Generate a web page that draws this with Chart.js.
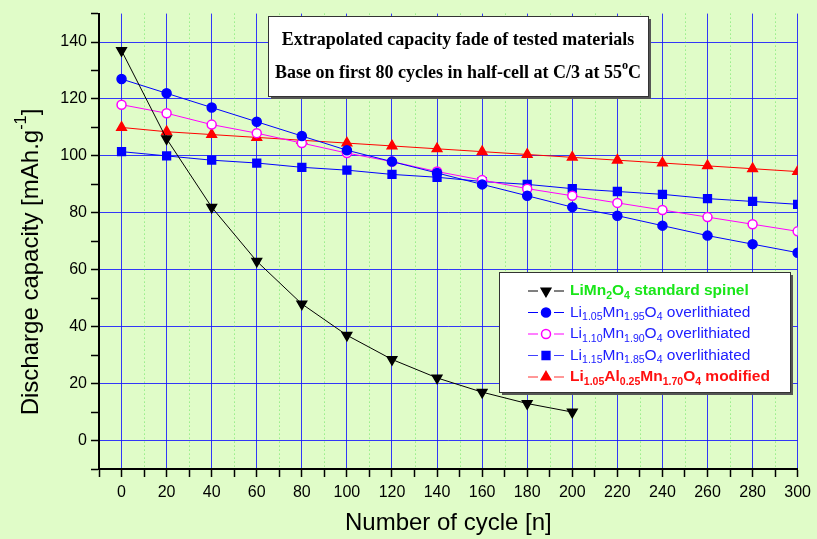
<!DOCTYPE html>
<html>
<head>
<meta charset="utf-8">
<script src="https://cdn.jsdelivr.net/npm/chart.js"></script>
<style>
  html, body { margin: 0; padding: 0; background: #e0fcc8; }
  #wrap { width: 817px; height: 539px; }
</style>
</head>
<body>
<div id="wrap"><canvas id="myChart" width="817" height="539"></canvas></div>
<script>
// cykle (os x)
const cycles = [0, 20, 40, 60, 80, 100, 120, 140, 160, 180, 200, 220, 240, 260, 280, 300];

// pojemnosc rozladowania [mAh/g]
const limn2o4 = [137, 106, 82, 63, 48, 37, 28.5, 22, 17, 13, 10];
const li105mn195 = [127, 122, 117, 112, 107, 102, 98, 94, 90, 86, 82, 79, 75.5, 72, 69, 66];
const li110mn190 = [118, 115, 111, 108, 104.5, 101, 98, 94.5, 91.5, 88.5, 86, 83.5, 81, 78.5, 76, 73.5];
const li115mn185 = [101.5, 100, 98.5, 97.5, 96, 95, 93.5, 92.5, 91, 90, 88.5, 87.5, 86.5, 85, 84, 83];
const li105al025 = [110, 108.5, 107.5, 106.5, 105.5, 104.5, 103.5, 102.5, 101.5, 100.5, 99.5, 98.5, 97.5, 96.5, 95.5, 94.5];

const xTickLabels = [0, 20, 40, 60, 80, 100, 120, 140, 160, 180, 200, 220, 240, 260, 280, 300];
const yTickLabels = [0, 20, 40, 60, 80, 100, 120, 140];
const xMinorGrid = [10, 30, 50, 70, 90, 110, 130, 150, 170, 190, 210, 230, 250, 270, 290];

function pts(vals) {
    return vals.map((v, i) => ({x: cycles[i], y: v}));
}

// tekst z indeksami dolnymi / gornymi
function richWidth(ctx, parts, size, weight, family) {
    let w = 0;
    parts.forEach(p => {
        const s = p.sub || p.sup ? size * 0.68 : size;
        ctx.font = weight + ' ' + s + 'px ' + family;
        w += ctx.measureText(p.t).width;
    });
    return w;
}
function drawRich(ctx, parts, x, y, size, weight, family, color) {
    ctx.fillStyle = color;
    ctx.textBaseline = 'middle';
    ctx.textAlign = 'left';
    let cx = x;
    parts.forEach(p => {
        const s = p.sub || p.sup ? size * 0.68 : size;
        ctx.font = weight + ' ' + s + 'px ' + family;
        let dy = 0;
        if (p.sub) dy = size * 0.32;
        if (p.sup) dy = -size * 0.38;
        ctx.fillText(p.t, cx, y + dy);
        cx += ctx.measureText(p.t).width;
    });
}

function shadowBox(ctx, x, y, w, h) {
    ctx.save();
    ctx.fillStyle = '#555';
    ctx.fillRect(x + 3, y + 3, w, h);
    ctx.fillStyle = 'white';
    ctx.fillRect(x, y, w, h);
    ctx.strokeStyle = '#333';
    ctx.lineWidth = 1;
    ctx.strokeRect(x + 0.5, y + 0.5, w, h);
    ctx.restore();
}

const legendItems = [
    {parts: [{t: 'LiMn'}, {t: '2', sub: 1}, {t: 'O'}, {t: '4', sub: 1}, {t: ' standard spinel'}],
     color: '#19e619', weight: 'bold', line: 'black', style: 'triangle', rot: 180, fill: 'black', border: 'black', r: 5.5},
    {parts: [{t: 'Li'}, {t: '1.05', sub: 1}, {t: 'Mn'}, {t: '1.95', sub: 1}, {t: 'O'}, {t: '4', sub: 1}, {t: ' overlithiated'}],
     color: '#2020ff', weight: 'normal', line: '#0000ff', style: 'circle', rot: 0, fill: '#0000ff', border: '#0000ff', r: 4.5},
    {parts: [{t: 'Li'}, {t: '1.10', sub: 1}, {t: 'Mn'}, {t: '1.90', sub: 1}, {t: 'O'}, {t: '4', sub: 1}, {t: ' overlithiated'}],
     color: '#2020ff', weight: 'normal', line: '#ff00ff', style: 'circle', rot: 0, fill: 'white', border: '#ff00ff', r: 4.5},
    {parts: [{t: 'Li'}, {t: '1.15', sub: 1}, {t: 'Mn'}, {t: '1.85', sub: 1}, {t: 'O'}, {t: '4', sub: 1}, {t: ' overlithiated'}],
     color: '#2020ff', weight: 'normal', line: '#4040ff', style: 'rect', rot: 0, fill: '#0000ff', border: '#0000ff', r: 5.5},
    {parts: [{t: 'Li'}, {t: '1.05', sub: 1}, {t: 'Al'}, {t: '0.25', sub: 1}, {t: 'Mn'}, {t: '1.70', sub: 1}, {t: 'O'}, {t: '4', sub: 1}, {t: ' modified'}],
     color: '#ff1010', weight: 'bold', line: '#ff3030', style: 'triangle', rot: 0, fill: '#ff0000', border: '#ff0000', r: 5.5}
];

const decorPlugin = {
    id: 'decor',
    beforeDraw(chart) {
        const ctx = chart.ctx;
        ctx.save();
        ctx.fillStyle = '#e0fcc8';
        ctx.fillRect(0, 0, chart.width, chart.height);
        ctx.restore();
    },
    beforeDatasetsDraw(chart) {
        // drobna siatka pionowa (zielone kropki)
        const ctx = chart.ctx;
        const xs = chart.scales.x;
        const a = chart.chartArea;
        ctx.save();
        ctx.strokeStyle = 'rgba(60,220,60,0.7)';
        ctx.lineWidth = 1;
        ctx.setLineDash([1, 3]);
        xMinorGrid.forEach(v => {
            const px = Math.round(xs.getPixelForValue(v)) + 0.5;
            ctx.beginPath();
            ctx.moveTo(px, a.top);
            ctx.lineTo(px, a.bottom);
            ctx.stroke();
        });
        ctx.restore();
    },
    afterDraw(chart) {
        const ctx = chart.ctx;
        ctx.save();

        // opis osi y
        const yParts = [{t: 'Discharge capacity [mAh.g'}, {t: '-1', sup: 1}, {t: ']'}];
        ctx.translate(31, 262);
        ctx.rotate(-Math.PI / 2);
        const yw = richWidth(ctx, yParts, 24, 'normal', '"Liberation Sans", Arial');
        drawRich(ctx, yParts, -yw / 2, 0, 24, 'normal', '"Liberation Sans", Arial', 'black');
        ctx.setTransform(1, 0, 0, 1, 0, 0);

        // ramka tytulu
        shadowBox(ctx, 268, 16, 380, 80);
        const fam = '"Liberation Serif", "Times New Roman", serif';
        const t1 = [{t: 'Extrapolated capacity fade of tested materials'}];
        const t2 = [{t: 'Base on first 80 cycles in half-cell at C/3 at 55'}, {t: 'o', sup: 1}, {t: 'C'}];
        let w1 = richWidth(ctx, t1, 18, 'bold', fam);
        drawRich(ctx, t1, 458 - w1 / 2, 40, 18, 'bold', fam, 'black');
        let w2 = richWidth(ctx, t2, 18, 'bold', fam);
        drawRich(ctx, t2, 458 - w2 / 2, 73, 18, 'bold', fam, 'black');

        // legenda
        shadowBox(ctx, 499, 272, 291, 120);
        legendItems.forEach((it, i) => {
            const y = 291 + i * 21.5;
            ctx.strokeStyle = it.line;
            ctx.lineWidth = 1;
            ctx.beginPath();
            ctx.moveTo(528, y); ctx.lineTo(538, y);
            ctx.moveTo(554, y); ctx.lineTo(564, y);
            ctx.stroke();
            ctx.fillStyle = it.fill;
            ctx.strokeStyle = it.border;
            ctx.lineWidth = 1.5;
            Chart.helpers.drawPoint(ctx, {pointStyle: it.style, radius: it.r, rotation: it.rot, borderWidth: 1.5}, 546, y);
            drawRich(ctx, it.parts, 570, y, 15.5, it.weight, '"Liberation Sans", Arial', it.color);
        });
        ctx.restore();
    }
};

function ds(label, vals, color, style, fill, rot, r) {
    return {
        label: label,
        data: pts(vals),
        borderColor: color,
        borderWidth: 1,
        pointStyle: style,
        pointRotation: rot || 0,
        pointRadius: r,
        pointBackgroundColor: fill,
        pointBorderColor: color,
        pointBorderWidth: 1.5,
        tension: 0,
        fill: false
    };
}

const data = {
    datasets: [
        ds('LiMn2O4', limn2o4, 'black', 'triangle', 'black', 180, 5.5),
        ds('Li1.05Mn1.95O4', li105mn195, '#0000ff', 'circle', '#0000ff', 0, 4.5),
        ds('Li1.10Mn1.90O4', li110mn190, '#ff00ff', 'circle', 'white', 0, 4.5),
        ds('Li1.15Mn1.85O4', li115mn185, '#0000ff', 'rect', '#0000ff', 0, 5.5),
        ds('Li1.05Al0.25Mn1.70O4', li105al025, '#ff0000', 'triangle', '#ff0000', 0, 5.5)
    ]
};

const config = {
    type: 'line',
    data: data,
    options: {
        responsive: false,
        animation: false,
        devicePixelRatio: 1,
        layout: { padding: { left: 0, right: 18, top: 10, bottom: 0 } },
        plugins: {
            legend: { display: false },
            tooltip: { enabled: false }
        },
        scales: {
            x: {
                type: 'linear',
                min: -10,
                max: 300,
                afterFit: s => { s.height = 70; },
                ticks: {
                    stepSize: 10,
                    autoSkip: false,
                    maxRotation: 0,
                    padding: 6,
                    color: 'black',
                    font: { family: '"Liberation Sans", Arial', size: 16 },
                    callback: v => xTickLabels.includes(v) ? String(v) : ''
                },
                grid: {
                    color: c => xTickLabels.includes(c.tick.value) ? 'rgba(20,20,255,0.85)' : 'rgba(0,0,0,0)',
                    lineWidth: 1,
                    tickColor: 'black',
                    tickLength: 8,
                    tickWidth: 1.5
                },
                border: { color: 'black', width: 2 },
                title: {
                    display: true,
                    text: 'Number of cycle [n]',
                    color: 'black',
                    font: { family: '"Liberation Sans", Arial', size: 24 },
                    padding: { top: 0, bottom: 1 }
                }
            },
            y: {
                min: -10,
                max: 150,
                afterFit: s => { s.width = 99; },
                ticks: {
                    stepSize: 10,
                    autoSkip: false,
                    padding: 4,
                    color: 'black',
                    font: { family: '"Liberation Sans", Arial', size: 16 },
                    callback: v => yTickLabels.includes(v) ? String(v) : ''
                },
                grid: {
                    color: c => yTickLabels.includes(c.tick.value) ? 'rgba(20,20,255,0.85)' : 'rgba(0,0,0,0)',
                    lineWidth: 1,
                    tickColor: 'black',
                    tickLength: 8,
                    tickWidth: 1.5
                },
                border: { color: 'black', width: 2 }
            }
        }
    },
    plugins: [decorPlugin]
};

const myChart = new Chart(document.getElementById('myChart'), config);
</script>
</body>
</html>
